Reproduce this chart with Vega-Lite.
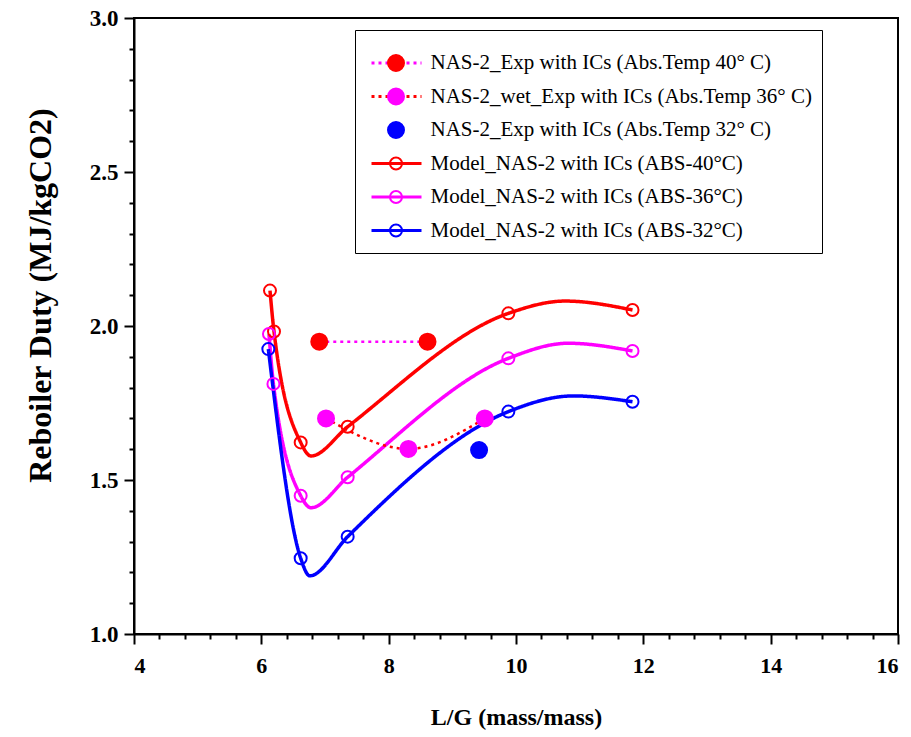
{
  "$schema": "https://vega.github.io/schema/vega-lite/v6.json",
  "width": 764,
  "height": 616,
  "autosize": "none",
  "padding": {"left": 134, "top": 18, "right": 13, "bottom": 103},
  "background": "white",
  "config": {
    "view": {"stroke": "black", "strokeWidth": 2},
    "font": "Liberation Serif",
    "axis": {
      "domainColor": "black", "domainWidth": 2, "tickColor": "black", "tickWidth": 2,
      "labelColor": "black", "titleColor": "black", "grid": false,
      "labelFont": "Liberation Serif", "titleFont": "Liberation Serif",
      "labelFontWeight": "bold", "titleFontWeight": "bold"
    },
    "legend": {
      "orient": "none", "legendX": 221, "legendY": 12,
      "titleFontSize": 6, "titlePadding": 4.5, "titleOpacity": 0,
      "symbolSize": 625, "symbolOffset": 17.5, "clipHeight": 25,
      "labelFont": "Liberation Serif", "labelFontSize": 21, "labelColor": "black",
      "labelLimit": 0, "labelOffset": 20, "padding": 10, "rowPadding": 8.5
    }
  },
  "datasets": {
    "curves": [
      {"series": "Model_NAS-2 with ICs (ABS-40°C)", "lg": 6.136, "duty": 2.115},
      {"series": "Model_NAS-2 with ICs (ABS-40°C)", "lg": 6.199, "duty": 1.982},
      {"series": "Model_NAS-2 with ICs (ABS-40°C)", "lg": 6.618, "duty": 1.622},
      {"series": "Model_NAS-2 with ICs (ABS-40°C)", "lg": 6.78, "duty": 1.578},
      {"series": "Model_NAS-2 with ICs (ABS-40°C)", "lg": 7.356, "duty": 1.673},
      {"series": "Model_NAS-2 with ICs (ABS-40°C)", "lg": 9.88, "duty": 2.041},
      {"series": "Model_NAS-2 with ICs (ABS-40°C)", "lg": 10.77, "duty": 2.081},
      {"series": "Model_NAS-2 with ICs (ABS-40°C)", "lg": 11.83, "duty": 2.052},
      {"series": "Model_NAS-2 with ICs (ABS-36°C)", "lg": 6.12, "duty": 1.974},
      {"series": "Model_NAS-2 with ICs (ABS-36°C)", "lg": 6.19, "duty": 1.812},
      {"series": "Model_NAS-2 with ICs (ABS-36°C)", "lg": 6.618, "duty": 1.449},
      {"series": "Model_NAS-2 with ICs (ABS-36°C)", "lg": 6.78, "duty": 1.41},
      {"series": "Model_NAS-2 with ICs (ABS-36°C)", "lg": 7.356, "duty": 1.509},
      {"series": "Model_NAS-2 with ICs (ABS-36°C)", "lg": 9.88, "duty": 1.895},
      {"series": "Model_NAS-2 with ICs (ABS-36°C)", "lg": 10.82, "duty": 1.944},
      {"series": "Model_NAS-2 with ICs (ABS-36°C)", "lg": 11.83, "duty": 1.919},
      {"series": "Model_NAS-2 with ICs (ABS-32°C)", "lg": 6.11, "duty": 1.925},
      {"series": "Model_NAS-2 with ICs (ABS-32°C)", "lg": 6.618, "duty": 1.246},
      {"series": "Model_NAS-2 with ICs (ABS-32°C)", "lg": 6.76, "duty": 1.189},
      {"series": "Model_NAS-2 with ICs (ABS-32°C)", "lg": 7.356, "duty": 1.316},
      {"series": "Model_NAS-2 with ICs (ABS-32°C)", "lg": 9.88, "duty": 1.722},
      {"series": "Model_NAS-2 with ICs (ABS-32°C)", "lg": 10.9, "duty": 1.773},
      {"series": "Model_NAS-2 with ICs (ABS-32°C)", "lg": 11.83, "duty": 1.754}
    ],
    "expcurves": [
      {"series": "NAS-2_Exp with ICs (Abs.Temp 40° C)", "lg": 6.91, "duty": 1.949},
      {"series": "NAS-2_Exp with ICs (Abs.Temp 40° C)", "lg": 8.61, "duty": 1.949},
      {"series": "NAS-2_wet_Exp with ICs (Abs.Temp 36° C)", "lg": 7.016, "duty": 1.7},
      {"series": "NAS-2_wet_Exp with ICs (Abs.Temp 36° C)", "lg": 8.31, "duty": 1.601},
      {"series": "NAS-2_wet_Exp with ICs (Abs.Temp 36° C)", "lg": 9.51, "duty": 1.7}
    ],
    "points": [
      {"mk": "e40", "lg": 6.91, "duty": 1.949},
      {"mk": "e40", "lg": 8.61, "duty": 1.949},
      {"mk": "e36", "lg": 7.016, "duty": 1.7},
      {"mk": "e36", "lg": 8.31, "duty": 1.601},
      {"mk": "e36", "lg": 9.51, "duty": 1.7},
      {"mk": "e32", "lg": 9.42, "duty": 1.597},
      {"mk": "m40", "lg": 6.136, "duty": 2.115},
      {"mk": "m40", "lg": 6.199, "duty": 1.982},
      {"mk": "m40", "lg": 6.618, "duty": 1.622},
      {"mk": "m40", "lg": 7.356, "duty": 1.673},
      {"mk": "m40", "lg": 9.88, "duty": 2.041},
      {"mk": "m40", "lg": 11.83, "duty": 2.052},
      {"mk": "m36", "lg": 6.12, "duty": 1.974},
      {"mk": "m36", "lg": 6.19, "duty": 1.812},
      {"mk": "m36", "lg": 6.618, "duty": 1.449},
      {"mk": "m36", "lg": 7.356, "duty": 1.509},
      {"mk": "m36", "lg": 9.88, "duty": 1.895},
      {"mk": "m36", "lg": 11.83, "duty": 1.919},
      {"mk": "m32", "lg": 6.11, "duty": 1.925},
      {"mk": "m32", "lg": 6.618, "duty": 1.246},
      {"mk": "m32", "lg": 7.356, "duty": 1.316},
      {"mk": "m32", "lg": 9.88, "duty": 1.722},
      {"mk": "m32", "lg": 11.83, "duty": 1.754}
    ]
  },
  "layer": [
    {
      "data": {"name": "curves"},
      "mark": {"type": "line", "interpolate": "monotone", "strokeWidth": 3.5},
      "encoding": {
        "x": {
          "field": "lg", "type": "quantitative",
          "scale": {"domain": [4, 16], "nice": false, "zero": false},
          "axis": {
            "orient": "bottom", "values": [4, 6, 8, 10, 12, 14, 16], "tickSize": 10,
            "labelFontSize": 22, "labelPadding": 11, "title": "L/G (mass/mass)",
            "titleFontSize": 24, "titlePadding": 29
          }
        },
        "y": {
          "field": "duty", "type": "quantitative",
          "scale": {"domain": [1, 3], "nice": false, "zero": false},
          "axis": {
            "orient": "left", "values": [1, 1.5, 2, 2.5, 3], "format": ".1f", "tickSize": 10,
            "labelFontSize": 23, "labelPadding": 6, "title": "Reboiler Duty (MJ/kgCO2)",
            "titleFontSize": 32, "titlePadding": 32, "titleY": 277
          }
        },
        "color": {
          "field": "series", "type": "nominal",
          "scale": {
            "domain": [
              "NAS-2_Exp with ICs (Abs.Temp 40° C)",
              "NAS-2_wet_Exp with ICs (Abs.Temp 36° C)",
              "NAS-2_Exp with ICs (Abs.Temp 32° C)",
              "Model_NAS-2 with ICs (ABS-40°C)",
              "Model_NAS-2 with ICs (ABS-36°C)",
              "Model_NAS-2 with ICs (ABS-32°C)"
            ],
            "range": ["#ff00ff", "#ff0000", "transparent", "#ff0000", "#ff00ff", "#0000ff"]
          },
          "legend": {
            "title": ".", "symbolType": "M-2,0H2", "symbolStrokeWidth": 3,
            "strokeColor": "black", "fillColor": "white", "zindex": 0
          }
        },
        "strokeDash": {
          "field": "series", "type": "nominal",
          "scale": {
            "domain": [
              "NAS-2_Exp with ICs (Abs.Temp 40° C)",
              "NAS-2_wet_Exp with ICs (Abs.Temp 36° C)",
              "NAS-2_Exp with ICs (Abs.Temp 32° C)",
              "Model_NAS-2 with ICs (ABS-40°C)",
              "Model_NAS-2 with ICs (ABS-36°C)",
              "Model_NAS-2 with ICs (ABS-32°C)"
            ],
            "range": [[3, 4], [3, 4], [1, 0], [1, 0], [1, 0], [1, 0]]
          },
          "legend": {
            "title": ".", "symbolType": "M-2,0H2", "symbolStrokeWidth": 3,
            "strokeColor": "black", "fillColor": "white", "zindex": 0
          }
        }
      }
    },
    {
      "data": {"name": "expcurves"},
      "mark": {"type": "line", "interpolate": "monotone", "strokeWidth": 2.5},
      "encoding": {
        "x": {"field": "lg", "type": "quantitative", "axis": null},
        "y": {"field": "duty", "type": "quantitative", "axis": null},
        "color": {"field": "series", "type": "nominal"},
        "strokeDash": {"field": "series", "type": "nominal"}
      }
    },
    {
      "data": {"name": "points"},
      "mark": {"type": "point", "filled": true, "size": 625, "strokeWidth": 2, "opacity": 1},
      "encoding": {
        "x": {"field": "lg", "type": "quantitative", "axis": null},
        "y": {"field": "duty", "type": "quantitative", "axis": null},
        "fill": {
          "field": "mk", "type": "nominal",
          "scale": {"domain": ["e40", "e36", "e32", "m40", "m36", "m32"],
                    "range": ["#ff0000", "#ff00ff", "#0000ff", "transparent", "transparent", "transparent"]},
          "legend": {"title": ".", "symbolStrokeWidth": 2, "labelOpacity": 0, "zindex": 1}
        },
        "stroke": {
          "field": "mk", "type": "nominal",
          "scale": {"domain": ["e40", "e36", "e32", "m40", "m36", "m32"],
                    "range": ["#ff0000", "#ff00ff", "#0000ff", "#ff0000", "#ff00ff", "#0000ff"]},
          "legend": {"title": ".", "symbolStrokeWidth": 2, "labelOpacity": 0, "zindex": 1}
        },
        "shape": {
          "field": "mk", "type": "nominal",
          "scale": {"domain": ["e40", "e36", "e32", "m40", "m36", "m32"],
                    "range": [
                      "M-0.64,0A0.64,0.64 0 1,1 0.64,0A0.64,0.64 0 1,1 -0.64,0Z",
                      "M-0.64,0A0.64,0.64 0 1,1 0.64,0A0.64,0.64 0 1,1 -0.64,0Z",
                      "M-0.64,0A0.64,0.64 0 1,1 0.64,0A0.64,0.64 0 1,1 -0.64,0Z",
                      "M-0.48,0A0.48,0.48 0 1,1 0.48,0A0.48,0.48 0 1,1 -0.48,0Z",
                      "M-0.48,0A0.48,0.48 0 1,1 0.48,0A0.48,0.48 0 1,1 -0.48,0Z",
                      "M-0.48,0A0.48,0.48 0 1,1 0.48,0A0.48,0.48 0 1,1 -0.48,0Z"
                    ]},
          "legend": {"title": ".", "symbolStrokeWidth": 2, "labelOpacity": 0, "zindex": 1}
        }
      }
    },
    {
      "data": {"name": "points"},
      "mark": {"type": "point", "opacity": 0},
      "encoding": {
        "x": {
          "field": "lg", "type": "quantitative",
          "axis": {
            "orient": "bottom", "labels": false, "domain": false, "title": null, "tickSize": 5,
            "values": [4.4, 4.8, 5.2, 5.6, 6.4, 6.8, 7.2, 7.6, 8.4, 8.8, 9.2, 9.6, 10.4, 10.8, 11.2, 11.6, 12.4, 12.8, 13.2, 13.6, 14.4, 14.8, 15.2, 15.6]
          }
        },
        "y": {
          "field": "duty", "type": "quantitative",
          "axis": {
            "orient": "left", "labels": false, "domain": false, "title": null, "tickSize": 5,
            "values": [1.1, 1.2, 1.3, 1.4, 1.6, 1.7, 1.8, 1.9, 2.1, 2.2, 2.3, 2.4, 2.6, 2.7, 2.8, 2.9]
          }
        }
      }
    }
  ],
  "resolve": {"axis": {"x": "independent", "y": "independent"}}
}
